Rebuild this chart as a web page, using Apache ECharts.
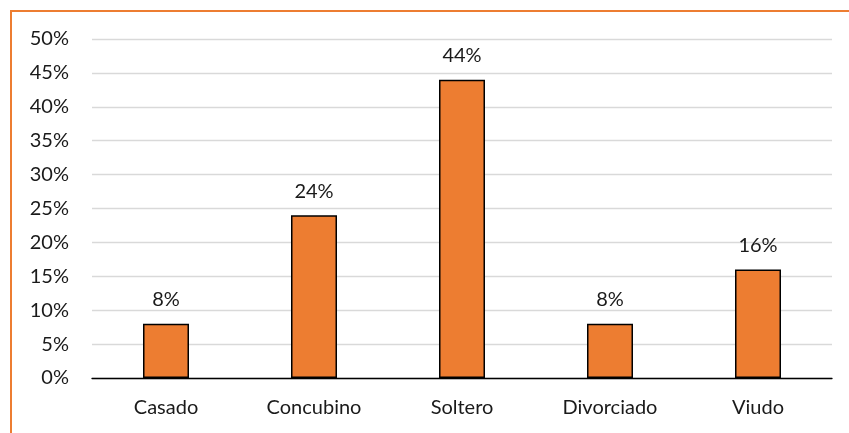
<!DOCTYPE html>
<html>
<head>
<meta charset="utf-8">
<script src="https://cdn.jsdelivr.net/npm/echarts@6/dist/echarts.min.js"></script>
<style>html,body{margin:0;padding:0;background:#fff;}#c{width:849px;height:433px;}</style>
</head>
<body>
<div id="c"></div>
<script>
var categories = ['Casado', 'Concubino', 'Soltero', 'Divorciado', 'Viudo'];
var values = [8, 24, 44, 8, 16];
var yTicks = [0, 5, 10, 15, 20, 25, 30, 35, 40, 45, 50];

var FONT = 'Lato, "Open Sans", sans-serif';
var chart = echarts.init(document.getElementById('c'));
chart.setOption({
  animation: false,
  backgroundColor: '#ffffff',
  graphic: [{
    type: 'rect',
    shape: { x: 11, y: 11, width: 900, height: 600 },
    style: { fill: 'none', stroke: '#ED7D31', lineWidth: 2 },
    silent: true
  }],
  grid: { left: 92, right: 17, top: 39, bottom: 55, containLabel: false },
  xAxis: {
    type: 'category',
    data: categories,
    axisTick: { show: false },
    axisLine: { lineStyle: { color: '#000', width: 1.3 } },
    axisLabel: { color: '#1a1a1a', fontSize: 20, fontFamily: FONT, margin: 20 }
  },
  yAxis: {
    type: 'value',
    min: yTicks[0],
    max: yTicks[yTicks.length - 1],
    interval: 5,
    axisLine: { show: false },
    axisTick: { show: false },
    splitLine: { lineStyle: { color: '#d9d9d9', width: 1.3 } },
    axisLabel: { color: '#1a1a1a', fontSize: 20, fontFamily: FONT, margin: 23, formatter: '{value}%' }
  },
  series: [{
    type: 'bar',
    data: values,
    barWidth: 46,
    itemStyle: { color: '#ED7D31', borderColor: '#000', borderWidth: 1.5 },
    label: { show: true, position: 'top', distance: 14, color: '#1a1a1a', fontSize: 20, fontFamily: FONT, formatter: '{c}%' }
  }]
});
</script>
</body>
</html>
